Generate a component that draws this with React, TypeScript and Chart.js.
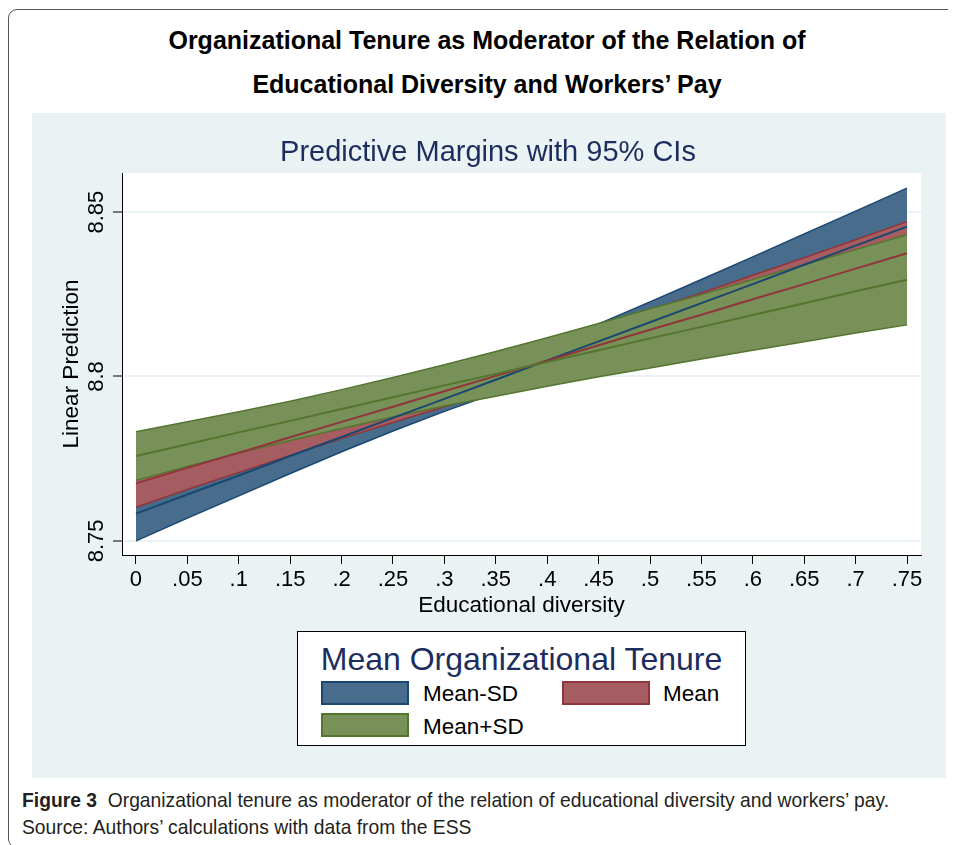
import React, { useEffect, useLayoutEffect, useRef } from "react";
import { Chart, registerables } from "chart.js";

Chart.register(...registerables);

// ---------- data ----------
const xValues = [0, 0.05, 0.1, 0.15, 0.2, 0.25, 0.3, 0.35, 0.4, 0.45, 0.5, 0.55, 0.6, 0.65, 0.7, 0.75];
const xTickLabels = ["0", ".05", ".1", ".15", ".2", ".25", ".3", ".35", ".4", ".45", ".5", ".55", ".6", ".65", ".7", ".75"];
const yTickValues = [8.75, 8.8, 8.85];
const yTickLabels = ["8.75", "8.8", "8.85"];
const seriesNames = ["Mean-SD", "Mean", "Mean+SD"];

// Mean-SD (navy)
const meanMinusSdMid = [8.7583, 8.7641, 8.7699, 8.7758, 8.7816, 8.7874, 8.7932, 8.799, 8.8049, 8.8107, 8.8165, 8.8223, 8.8281, 8.834, 8.8398, 8.8456];
const meanMinusSdLow = [8.75, 8.7569, 8.7637, 8.7705, 8.7771, 8.7834, 8.7894, 8.795, 8.8004, 8.8054, 8.8103, 8.8151, 8.8198, 8.8246, 8.8293, 8.8339];
const meanMinusSdHigh = [8.7666, 8.7713, 8.7761, 8.7811, 8.7861, 8.7914, 8.797, 8.803, 8.8094, 8.816, 8.8227, 8.8295, 8.8364, 8.8434, 8.8503, 8.8573];

// Mean (maroon)
const meanMid = [8.7675, 8.7722, 8.7768, 8.7815, 8.7862, 8.7908, 8.7955, 8.8002, 8.8048, 8.8095, 8.8142, 8.8188, 8.8235, 8.8281, 8.8328, 8.8375];
const meanLow = [8.7602, 8.7656, 8.7708, 8.776, 8.7811, 8.786, 8.7908, 8.7954, 8.7997, 8.804, 8.8082, 8.8122, 8.8162, 8.8201, 8.824, 8.8279];
const meanHigh = [8.7748, 8.7788, 8.7828, 8.787, 8.7913, 8.7956, 8.8002, 8.805, 8.8099, 8.815, 8.8202, 8.8254, 8.8308, 8.8361, 8.8416, 8.8471];

// Mean+SD (forest green)
const meanPlusSdMid = [8.7758, 8.7794, 8.783, 8.7865, 8.7901, 8.7937, 8.7973, 8.8008, 8.8044, 8.808, 8.8116, 8.8151, 8.8187, 8.8223, 8.8259, 8.8294];
const meanPlusSdLow = [8.7684, 8.7726, 8.7767, 8.7805, 8.7842, 8.7877, 8.791, 8.794, 8.797, 8.7999, 8.8026, 8.8053, 8.808, 8.8106, 8.8132, 8.8157];
const meanPlusSdHigh = [8.7832, 8.7862, 8.7893, 8.7925, 8.796, 8.7997, 8.8036, 8.8076, 8.8118, 8.8161, 8.8206, 8.8249, 8.8295, 8.834, 8.8386, 8.8431];

// ---------- styles ----------
const LINE = ["#1a476f", "#90353b", "#55752f"];
const FILL = ["#486c8c", "#a65d62", "#779159"];
const NAVY = "#1c2d5e";
const PANEL = "#eaf2f3";
const FONT = "'Liberation Sans', Arial, Helvetica, sans-serif";

const pts = (ys: number[]) => xValues.map((x, i) => ({ x, y: ys[i] }));

const plotPlugin = {
  id: "plotDecor",
  beforeDraw(chart: any) {
    const { ctx, chartArea: a } = chart;
    ctx.save();
    ctx.fillStyle = "#ffffff";
    ctx.fillRect(a.left, a.top, a.right - a.left, a.bottom - a.top);
    ctx.restore();
  },
  afterDraw(chart: any) {
    const { ctx } = chart;
    const ys = chart.scales.y;
    ctx.save();
    ctx.font = `22px ${FONT}`;
    ctx.fillStyle = "#000";
    ctx.textAlign = "center";
    ctx.textBaseline = "middle";
    yTickValues.forEach((v, i) => {
      const py = ys.getPixelForValue(v);
      ctx.save();
      ctx.translate(ys.right - 25, py);
      ctx.rotate(-Math.PI / 2);
      ctx.fillText(yTickLabels[i], 0, 0);
      ctx.restore();
    });
    ctx.restore();
  },
};

function ChartCanvas() {
  const ref = useRef<HTMLCanvasElement | null>(null);
  useEffect(() => {
    if (!ref.current) return;
    const bands = [
      [meanMinusSdLow, meanMinusSdHigh],
      [meanLow, meanHigh],
      [meanPlusSdLow, meanPlusSdHigh],
    ];
    const mids = [meanMinusSdMid, meanMid, meanPlusSdMid];
    const datasets: any[] = [];
    bands.forEach((b, s) => {
      const base = datasets.length;
      datasets.push({
        label: seriesNames[s] + " lower",
        data: pts(b[0]),
        borderColor: LINE[s],
        borderWidth: 1.5,
        pointRadius: 0,
        fill: false,
        order: 9 - s,
      });
      datasets.push({
        label: seriesNames[s] + " upper",
        data: pts(b[1]),
        borderColor: LINE[s],
        borderWidth: 1.5,
        backgroundColor: FILL[s],
        pointRadius: 0,
        fill: base,
        order: 9 - s,
      });
    });
    mids.forEach((m, s) => {
      datasets.push({
        label: seriesNames[s],
        data: pts(m),
        borderColor: LINE[s],
        borderWidth: 2,
        pointRadius: 0,
        fill: false,
        order: 3 - s,
      });
    });

    const chart = new Chart(ref.current, {
      type: "line",
      data: { datasets },
      plugins: [plotPlugin],
      options: {
        responsive: false,
        animation: false,
        devicePixelRatio: 1,
        layout: { padding: { left: 23, right: 25, top: 0, bottom: 0 } },
        elements: { line: { tension: 0 } },
        plugins: {
          legend: { display: false },
          tooltip: { enabled: false },
          title: {
            display: true,
            text: "Predictive Margins with 95% CIs",
            color: NAVY,
            font: { family: FONT, size: 29, weight: "normal", lineHeight: 1.2 },
            padding: { top: 22.6, bottom: 2.6 },
          },
        },
        scales: {
          x: {
            type: "linear",
            min: -0.0136,
            max: 0.7636,
            afterFit(scale: any) {
              scale.height = 223;
            },
            afterBuildTicks(scale: any) {
              scale.ticks = xValues.map((v) => ({ value: v }));
            },
            ticks: {
              color: "#000",
              font: { family: FONT, size: 22 },
              padding: 3,
              maxRotation: 0,
              minRotation: 0,
              autoSkip: false,
              callback: (_v: any, i: number) => xTickLabels[i],
            },
            grid: {
              color: "rgba(0,0,0,0)",
              drawTicks: true,
              tickLength: 9,
              tickColor: "#000",
              tickWidth: 1,
            },
            border: { display: true, color: "#000", width: 1 },
            title: {
              display: true,
              text: "Educational diversity",
              color: "#000",
              font: { family: FONT, size: 22.5, lineHeight: 1.2 },
              padding: { top: 0, bottom: 159 },
            },
          },
          y: {
            type: "linear",
            min: 8.7457,
            max: 8.8619,
            afterFit(scale: any) {
              scale.width = 67;
            },
            afterBuildTicks(scale: any) {
              scale.ticks = yTickValues.map((v) => ({ value: v }));
            },
            ticks: {
              color: "rgba(0,0,0,0)",
              font: { family: FONT, size: 22 },
              callback: (_v: any, i: number) => yTickLabels[i],
            },
            grid: {
              color: PANEL,
              lineWidth: 2,
              drawTicks: true,
              tickLength: 9,
              tickColor: "#000",
              tickWidth: 1,
            },
            border: { display: true, color: "#000", width: 1 },
            title: {
              display: true,
              text: "Linear Prediction",
              color: "#000",
              font: { family: FONT, size: 22.5, lineHeight: 1.2 },
              padding: { top: 3, bottom: 0 },
            },
          },
        },
      },
    });
    return () => chart.destroy();
  }, []);
  return (
    <canvas
      ref={ref}
      width={914}
      height={665}
      style={{ position: "absolute", left: 24, top: 105, width: 914, height: 665, background: PANEL }}
    />
  );
}

const swatch = (s: number, left: number, top: number, w: number, h: number) => (
  <div
    style={{
      position: "absolute",
      left,
      top,
      width: w,
      height: h,
      boxSizing: "border-box",
      border: `2px solid ${LINE[s]}`,
      background: FILL[s],
    }}
  />
);

const legendLabel = (text: string, left: number, top: number) => (
  <div style={{ position: "absolute", left, top, fontSize: 22.5, lineHeight: "26px", fontFamily: FONT, color: "#000", whiteSpace: "nowrap" }}>
    {text}
  </div>
);

function Caption() {
  const boxRef = useRef<HTMLDivElement | null>(null);
  const lineRef = useRef<HTMLDivElement | null>(null);
  useLayoutEffect(() => {
    if (!boxRef.current || !lineRef.current) return;
    const w = lineRef.current.getBoundingClientRect().width;
    if (w > 0) boxRef.current.style.transform = `scaleX(${867 / w})`;
  }, []);
  return (
    <div
      ref={boxRef}
      style={{
        position: "absolute",
        left: 14,
        top: 778,
        transformOrigin: "0 0",
        fontFamily: FONT,
        fontSize: 21,
        lineHeight: "27px",
        color: "#231f20",
        whiteSpace: "nowrap",
      }}
    >
      <div ref={lineRef} style={{ display: "inline-block" }}>
        <b>Figure 3</b>&nbsp; Organizational tenure as moderator of the relation of educational diversity and workers’ pay.
      </div>
      <div>Source: Authors’ calculations with data from the ESS</div>
    </div>
  );
}

export default function App() {
  return (
    <div style={{ position: "relative", width: 948, height: 837, overflow: "hidden", fontFamily: FONT }}>
      <div
        style={{
          position: "absolute",
          left: 0,
          top: 1,
          width: 980,
          height: 839,
          boxSizing: "border-box",
          border: "1.3px solid #555",
          borderRadius: 9,
        }}
      />
      <div style={{ position: "absolute", left: 79, top: 17, width: 800, textAlign: "center", fontWeight: "bold", fontSize: 25, lineHeight: "30px", color: "#000" }}>
        Organizational Tenure as Moderator of the Relation of
      </div>
      <div style={{ position: "absolute", left: 79, top: 61, width: 800, textAlign: "center", fontWeight: "bold", fontSize: 25, lineHeight: "30px", color: "#000" }}>
        Educational Diversity and Workers’ Pay
      </div>
      <ChartCanvas />
      <div
        style={{
          position: "absolute",
          left: 289,
          top: 623,
          width: 449,
          height: 115,
          boxSizing: "border-box",
          border: "1px solid #000",
          background: "#fff",
        }}
      >
        <div style={{ position: "absolute", left: 0, top: 9, width: "100%", textAlign: "center", fontSize: 32, lineHeight: "36px", color: NAVY, whiteSpace: "nowrap" }}>
          Mean Organizational Tenure
        </div>
        {swatch(0, 23, 49, 88, 24)}
        {legendLabel(seriesNames[0], 125, 49)}
        {swatch(1, 264, 49, 88, 24)}
        {legendLabel(seriesNames[1], 365, 49)}
        {swatch(2, 23, 81, 88, 24)}
        {legendLabel(seriesNames[2], 125, 82)}
      </div>
      <Caption />
    </div>
  );
}
